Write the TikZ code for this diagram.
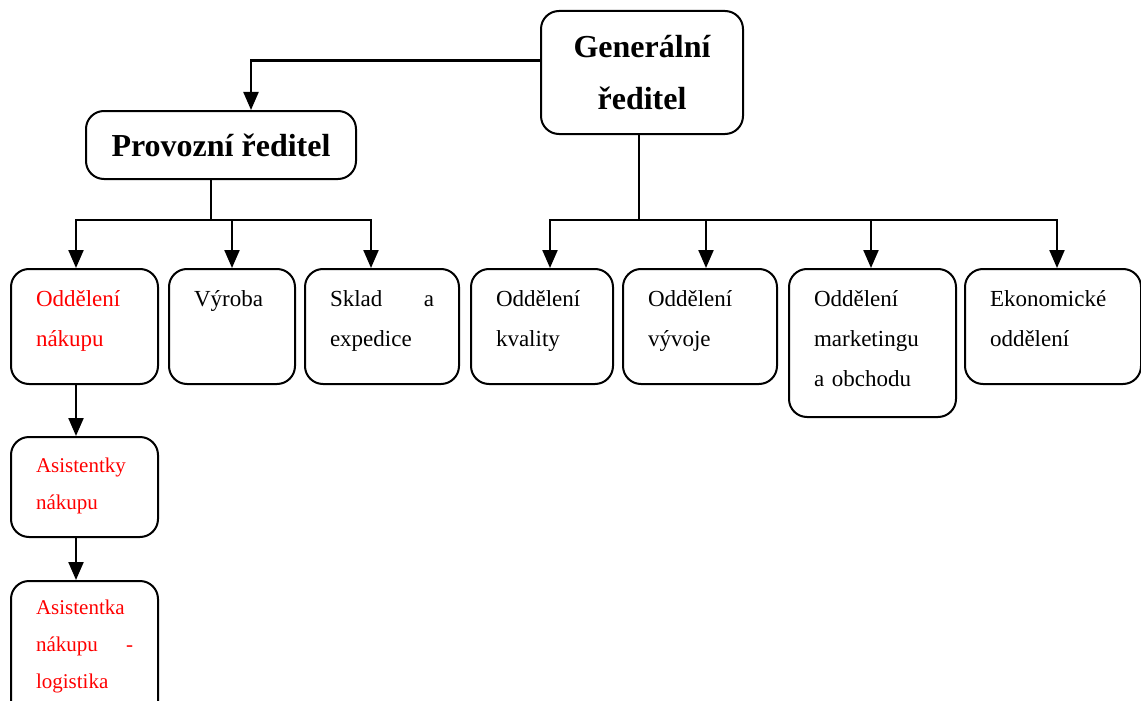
\documentclass[tikz,border=0pt]{standalone}
\usepackage{fontspec}
\setmainfont{Liberation Serif}
\usepackage{xcolor}
\usepackage{tikz}
\usetikzlibrary{arrows.meta,positioning}

\begin{document}
\begin{tikzpicture}[x=1pt,y=-1pt,>={Triangle[length=18pt,width=15pt]},
box/.style={draw,line width=2pt,rounded corners=18pt,anchor=north west,inner sep=0pt},
boss/.style={box,font=\bfseries\fontsize{32pt}{52pt}\selectfont,align=center},
unit/.style={box,align=left,inner xsep=25pt,text width=#1,font=\fontsize{23pt}{40pt}\selectfont,
text height=16pt,text depth=57pt,minimum height=115pt},
asist/.style={box,align=left,inner xsep=25pt,text width=#1,text=red,font=\fontsize{21pt}{37pt}\selectfont,
text height=15pt,text depth=45pt,minimum height=100pt},
conn/.style={line width=2.2pt}]
\useasboundingbox (0,0) rectangle (1141,701);
% vedeni
\node[boss,inner xsep=10pt,text width=182pt,minimum height=123pt,text height=22pt,text depth=52pt] (gen) at (540,10) {Generální\\ředitel};
\node[boss,minimum width=270pt,minimum height=68pt] (prov) at (85,110) {Provozní ředitel};
% oddeleni
\node[unit=97pt,text=red] (nakup) at (10,268) {Oddělení\\nákupu};
\node[unit=76pt] (vyroba) at (168,268) {Výroba\\\mbox{}};
\node[unit=104pt] (sklad) at (304,268) {Sklad\hfill a\\expedice};
\node[unit=92pt] (kvalita) at (470,268) {Oddělení\\kvality};
\node[unit=104pt] (vyvoj) at (622,268) {Oddělení\\vývoje};
\node[unit=117pt,text depth=90pt,minimum height=148pt] (mkt) at (788,268) {Oddělení\\marketingu\\a obchodu};
\node[unit=126pt] (ekon) at (964,268) {Ekonomické\\oddělení};
\node[asist=97pt] (asis1) at (10,436) {Asistentky\\nákupu};
\node[asist=97pt,text depth=89pt,minimum height=140pt] (asis2) at (10,580) {Asistentka\\nákupu\hfill -\\logistika};
% spoje
\draw[conn,->] ([yshift=12pt]gen.west) -| ([xshift=30pt]prov.north);
\draw[conn] ([xshift=-10pt]prov.south) -- ++(0,40) coordinate (pbar);
\draw[conn,->] (pbar) -| ([xshift=-8.5pt]nakup.north);
\draw[conn,->] (pbar) -| (vyroba.north);
\draw[conn,->] (pbar) -| ([xshift=-11pt]sklad.north);
\draw[conn] ([xshift=-3pt]gen.south) -- ++(0,85) coordinate (gbar);
\draw[conn,->] (gbar) -| ([xshift=8pt]kvalita.north);
\draw[conn,->] (gbar) -| ([xshift=6pt]vyvoj.north);
\draw[conn,->] (gbar) -| ([xshift=-1.5pt]mkt.north);
\draw[conn,->] (gbar) -| ([xshift=4pt]ekon.north);
\draw[conn,->] ([xshift=-8.5pt]nakup.south) -- ([xshift=-8.5pt]asis1.north);
\draw[conn,->] ([xshift=-8.5pt]asis1.south) -- ([xshift=-8.5pt]asis2.north);
\end{tikzpicture}
\end{document}
